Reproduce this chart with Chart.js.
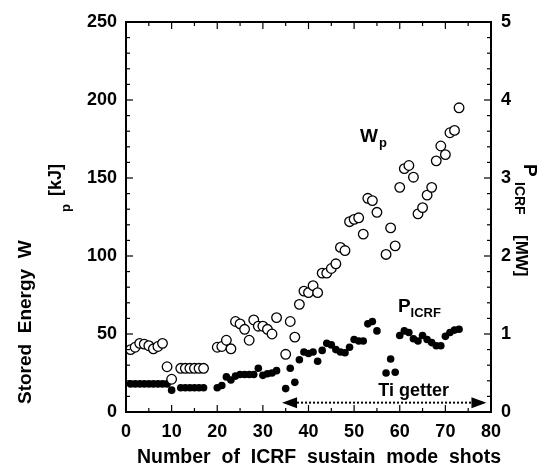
<!DOCTYPE html>
<html>
<head>
<meta charset="utf-8">
<script src="https://cdn.jsdelivr.net/npm/chart.js@4/dist/chart.umd.min.js"></script>
<style>
  html, body { margin: 0; padding: 0; background: #fff; }
  #wrap { width: 542px; height: 469px; }
</style>
</head>
<body>
<div id="wrap"><canvas id="chart"></canvas></div>
<script>
const FONT = "'Liberation Sans', Arial, sans-serif";

// shot numbers (x), shared by both series
const shots = [
  1, 2, 3, 4, 5, 6, 7, 8, 9, 10,
  12, 13, 14, 15, 16, 17,
  20, 21, 22, 23, 24, 25, 26, 27, 28, 29, 30, 31, 32, 33,
  35, 36, 37, 38, 39, 40, 41, 42, 43, 44, 45, 46, 47, 48, 49, 50, 51, 52, 53, 54, 55,
  57, 58, 59, 60, 61, 62, 63, 64, 65, 66, 67, 68, 69, 70, 71, 72, 73
];

// stored energy Wp [kJ] (open circles, left axis)
const storedEnergy = [
  40, 41.5, 44, 43.5, 42.5, 40.5, 42, 44, 29, 21,
  28, 28, 28, 28, 28, 28,
  41.5, 42, 46, 40.5, 58, 56.5, 53, 46, 59, 55, 55, 53, 50, 60.5,
  37, 58, 48, 69, 77.5, 76.5, 81, 76.5, 89, 89, 92, 95, 105.5, 103.5, 122, 123.5, 124.5, 114, 137, 135.5, 128,
  101, 118, 106.5, 144, 156, 158, 150.5, 127, 131, 139, 144, 161, 170.5, 165, 179, 180.5, 195
];

// ICRF power [MW] (filled dots, right axis)
const icrfPower = [
  0.36, 0.36, 0.36, 0.36, 0.36, 0.36, 0.36, 0.36, 0.36, 0.28,
  0.31, 0.31, 0.31, 0.31, 0.31, 0.31,
  0.31, 0.34, 0.45, 0.41, 0.46, 0.48, 0.48, 0.48, 0.48, 0.56, 0.47, 0.49, 0.5, 0.53,
  0.30, 0.56, 0.38, 0.67, 0.77, 0.75, 0.77, 0.65, 0.79, 0.88, 0.86, 0.8, 0.77, 0.76, 0.83, 0.93, 0.91, 0.91, 1.13, 1.16, 1.04,
  0.5, 0.68, 0.51, 0.98, 1.04, 1.02, 0.94, 0.91, 0.98, 0.93, 0.89, 0.85, 0.85, 0.97, 1.02, 1.05, 1.06
];

const xTicks = [0, 10, 20, 30, 40, 50, 60, 70, 80];
const leftTicks = [0, 50, 100, 150, 200, 250];
const rightTicks = [0, 1, 2, 3, 4, 5];

// Ti getter period (shot range)
const getterFrom = 34.2;
const getterTo = 79;

const toPoints = (xs, ys) => xs.map((x, i) => ({ x: x, y: ys[i] }));

const line = (ctx, x1, y1, x2, y2) => {
    ctx.beginPath();
    ctx.moveTo(x1, y1);
    ctx.lineTo(x2, y2);
    ctx.stroke();
};

// rotated text helper, angle in radians
const rotText = (ctx, text, x, y, angle, font) => {
    ctx.save();
    ctx.translate(x, y);
    ctx.rotate(angle);
    ctx.font = font;
    ctx.fillText(text, 0, 0);
    ctx.restore();
};

const decorations = {
    id: 'decorations',
    afterDraw(chart) {
        const ctx = chart.ctx;
        const { left, right, top, bottom } = chart.chartArea;
        const xs = chart.scales.x, ys = chart.scales.y, y2 = chart.scales.y2;
        ctx.save();
        ctx.strokeStyle = '#000';
        ctx.fillStyle = '#000';

        // frame
        ctx.lineWidth = 2;
        ctx.strokeRect(left, top, right - left, bottom - top);

        // inward ticks
        ctx.lineWidth = 1.2;
        for (let v = 0; v <= 80; v += 5) {
            const px = xs.getPixelForValue(v);
            const len = v % 10 === 0 ? 7 : 4;
            line(ctx, px, bottom, px, bottom - len);
            line(ctx, px, top, px, top + len);
        }
        for (let v = 0; v <= 250; v += 10) {
            const py = ys.getPixelForValue(v);
            line(ctx, left, py, left + (v % 50 === 0 ? 7 : 4), py);
        }
        for (let i = 0; i <= 25; i++) {
            const py = y2.getPixelForValue(i * 0.2);
            line(ctx, right, py, right - (i % 5 === 0 ? 7 : 4), py);
        }

        // Ti getter arrow
        const ay = ys.getPixelForValue(6);
        const ax1 = xs.getPixelForValue(getterFrom);
        const ax2 = xs.getPixelForValue(getterTo);
        ctx.beginPath();
        ctx.moveTo(ax1, ay);
        ctx.lineTo(ax1 + 15, ay - 5.5);
        ctx.lineTo(ax1 + 15, ay + 5.5);
        ctx.closePath();
        ctx.fill();
        ctx.beginPath();
        ctx.moveTo(ax2, ay);
        ctx.lineTo(ax2 - 15, ay - 5.5);
        ctx.lineTo(ax2 - 15, ay + 5.5);
        ctx.closePath();
        ctx.fill();
        ctx.setLineDash([2, 2]);
        ctx.lineWidth = 2;
        line(ctx, ax1 + 15, ay, ax2 - 15, ay);
        ctx.setLineDash([]);

        // in-plot labels
        ctx.textBaseline = 'alphabetic';
        ctx.textAlign = 'left';
        ctx.font = 'bold 18px ' + FONT;
        ctx.fillText('Ti getter', xs.getPixelForValue(55.3), ys.getPixelForValue(10));

        let wx = xs.getPixelForValue(51.3), wy = ys.getPixelForValue(173);
        ctx.font = 'bold 19px ' + FONT;
        ctx.fillText('W', wx, wy);
        let w = ctx.measureText('W').width;
        ctx.font = 'bold 13px ' + FONT;
        ctx.fillText('p', wx + w + 1, wy + 5);

        let px = xs.getPixelForValue(59.6), py = ys.getPixelForValue(64);
        ctx.font = 'bold 19px ' + FONT;
        ctx.fillText('P', px, py);
        w = ctx.measureText('P').width;
        ctx.font = 'bold 13px ' + FONT;
        ctx.fillText('ICRF', px + w, py + 5);

        // left axis title
        rotText(ctx, 'Stored  Energy  W', 31, 404, -Math.PI / 2, 'bold 19px ' + FONT);
        rotText(ctx, 'p', 70, 212, -Math.PI / 2, 'bold 13px ' + FONT);
        rotText(ctx, '[kJ]', 61, 196, -Math.PI / 2, 'bold 18px ' + FONT);

        // right axis title
        rotText(ctx, 'P', 524, 164, Math.PI / 2, 'bold 19px ' + FONT);
        rotText(ctx, 'ICRF', 515, 182, Math.PI / 2, 'bold 14px ' + FONT);
        rotText(ctx, '[MW]', 516, 235, Math.PI / 2, 'bold 17px ' + FONT);

        // x axis title
        ctx.textAlign = 'center';
        ctx.font = 'bold 19.5px ' + FONT;
        ctx.fillText('Number  of  ICRF  sustain  mode  shots', 319, 463);

        ctx.restore();
    }
};

const tickFont = { family: FONT, size: 18, weight: 'bold' };

new Chart(document.getElementById('chart'), {
    type: 'scatter',
    data: {
        datasets: [
            {
                label: 'Wp',
                data: toPoints(shots, storedEnergy),
                yAxisID: 'y',
                order: 0,
                pointStyle: 'circle',
                pointRadius: 4.8,
                pointBorderWidth: 1.3,
                borderColor: '#000',
                backgroundColor: '#fff',
            },
            {
                label: 'PICRF',
                data: toPoints(shots, icrfPower),
                yAxisID: 'y2',
                order: 1,
                pointStyle: 'circle',
                pointRadius: 3.8,
                pointBorderWidth: 0,
                borderColor: '#000',
                backgroundColor: '#000',
            },
        ],
    },
    options: {
        responsive: true,
        maintainAspectRatio: false,
        animation: false,
        devicePixelRatio: 1,
        layout: { padding: { top: 22, left: 0, right: 0, bottom: 0 } },
        plugins: { legend: { display: false }, tooltip: { enabled: false } },
        scales: {
            x: {
                type: 'linear',
                min: 0, max: 80,
                grid: { display: false, drawTicks: false },
                border: { display: false },
                afterBuildTicks: (s) => { s.ticks = xTicks.map(v => ({ value: v })); },
                ticks: { font: tickFont, color: '#000', padding: 9, maxRotation: 0 },
                afterFit: (s) => { s.height = 57; },
            },
            y: {
                position: 'left',
                min: 0, max: 250,
                grid: { display: false, drawTicks: false },
                border: { display: false },
                afterBuildTicks: (s) => { s.ticks = leftTicks.map(v => ({ value: v })); },
                ticks: { font: tickFont, color: '#000', padding: 9 },
                afterFit: (s) => { s.width = 126; },
            },
            y2: {
                position: 'right',
                min: 0, max: 5,
                grid: { display: false, drawTicks: false },
                border: { display: false },
                afterBuildTicks: (s) => { s.ticks = rightTicks.map(v => ({ value: v })); },
                ticks: { font: tickFont, color: '#000', padding: 10 },
                afterFit: (s) => { s.width = 51; },
            },
        },
    },
    plugins: [decorations],
});
</script>
</body>
</html>
